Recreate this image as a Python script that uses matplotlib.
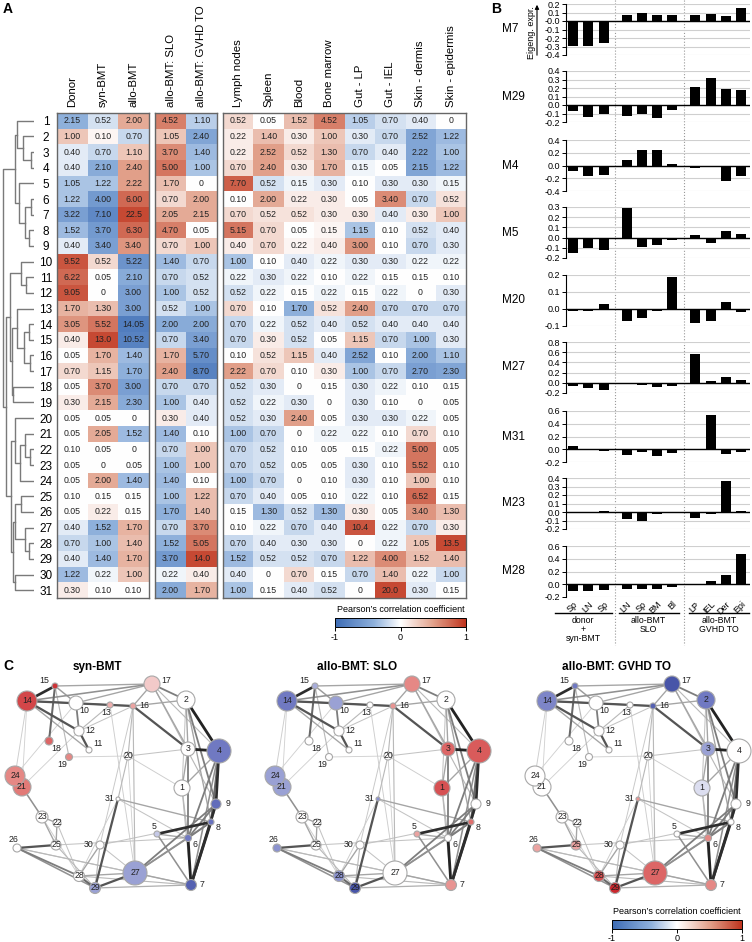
import numpy as np
import matplotlib
matplotlib.use("Agg")
import matplotlib.pyplot as plt
from matplotlib.colors import LinearSegmentedColormap, Normalize
from matplotlib.patches import Circle
from matplotlib.transforms import blended_transform_factory
import matplotlib.cm as cm

plt.rcParams['font.family'] = ['Liberation Sans', 'DejaVu Sans']
plt.rcParams['axes.unicode_minus'] = False

W, H = 752, 942

# ---------------- panel A data ----------------
col_names = ["Donor", "syn-BMT", "allo-BMT", "allo-BMT: SLO", "allo-BMT: GVHD TO",
             "Lymph nodes", "Spleen", "Blood", "Bone marrow", "Gut - LP", "Gut - IEL",
             "Skin - dermis", "Skin - epidermis"]
col_groups = [[0, 1, 2], [3, 4], [5, 6, 7, 8, 9, 10, 11, 12]]

cell_text = [
    "2.15 0.52 2.00 4.52 1.10 0.52 0.05 1.52 4.52 1.05 0.70 0.40 0",
    "1.00 0.10 0.70 1.05 2.40 0.22 1.40 0.30 1.00 0.30 0.70 2.52 1.22",
    "0.40 0.70 1.10 3.70 1.40 0.22 2.52 0.52 1.30 0.70 0.40 2.22 1.00",
    "0.40 2.10 2.40 5.00 1.00 0.70 2.40 0.30 1.70 0.15 0.05 2.15 1.22",
    "1.05 1.22 2.22 1.70 0 7.70 0.52 0.15 0.30 0.10 0.30 0.30 0.15",
    "1.22 4.00 6.00 0.70 2.00 0.10 2.00 0.22 0.30 0.05 3.40 0.70 0.52",
    "3.22 7.10 22.5 2.05 2.15 0.70 0.52 0.52 0.30 0.30 0.40 0.30 1.00",
    "1.52 3.70 6.30 4.70 0.05 5.15 0.70 0.05 0.15 1.15 0.10 0.52 0.40",
    "0.40 3.40 3.40 0.70 1.00 0.40 0.70 0.22 0.40 3.00 0.10 0.70 0.30",
    "9.52 0.52 5.22 1.40 0.70 1.00 0.10 0.40 0.22 0.30 0.30 0.22 0.22",
    "6.22 0.05 2.10 0.70 0.52 0.22 0.30 0.22 0.10 0.22 0.15 0.15 0.10",
    "9.05 0 3.00 1.00 0.52 0.52 0.22 0.15 0.22 0.15 0.22 0 0.30",
    "1.70 1.30 3.00 0.52 1.00 0.70 0.10 1.70 0.52 2.40 0.70 0.70 0.70",
    "3.05 5.52 14.05 2.00 2.00 0.70 0.22 0.52 0.40 0.52 0.40 0.40 0.40",
    "0.40 13.0 10.52 0.70 3.40 0.70 0.30 0.52 0.05 1.15 0.70 1.00 0.30",
    "0.05 1.70 1.40 1.70 5.70 0.10 0.52 1.15 0.40 2.52 0.10 2.00 1.10",
    "0.70 1.15 1.70 2.40 8.70 2.22 0.70 0.10 0.30 1.00 0.70 2.70 2.30",
    "0.05 3.70 3.00 0.70 0.70 0.52 0.30 0 0.15 0.30 0.22 0.10 0.15",
    "0.30 2.15 2.30 1.00 0.40 0.52 0.22 0.30 0 0.30 0.10 0 0.05",
    "0.05 0.05 0 0.30 0.40 0.52 0.30 2.40 0.05 0.30 0.30 0.22 0.05",
    "0.05 2.05 1.52 1.40 0.10 1.00 0.70 0 0.22 0.22 0.10 0.70 0.10",
    "0.10 0.05 0 0.70 1.00 0.70 0.52 0.10 0.05 0.15 0.22 5.00 0.05",
    "0.05 0 0.05 1.00 1.00 0.70 0.52 0.05 0.05 0.30 0.10 5.52 0.10",
    "0.05 2.00 1.40 1.40 0.10 1.00 0.70 0 0.10 0.30 0.10 1.00 0.10",
    "0.10 0.15 0.15 1.00 1.22 0.70 0.40 0.05 0.10 0.22 0.10 6.52 0.15",
    "0.05 0.22 0.15 1.70 1.40 0.15 1.30 0.52 1.30 0.30 0.05 3.40 1.30",
    "0.40 1.52 1.70 0.70 3.70 0.10 0.22 0.70 0.40 10.4 0.22 0.70 0.30",
    "0.70 1.00 1.40 1.52 5.05 0.70 0.40 0.30 0.30 0 0.22 1.05 13.5",
    "0.40 1.40 1.70 3.70 14.0 1.52 0.52 0.52 0.70 1.22 4.00 1.52 1.40",
    "1.22 0.22 1.00 0.22 0.40 0.40 0 0.70 0.15 0.70 1.40 0.22 1.00",
    "0.30 0.10 0.10 2.00 1.70 1.00 0.15 0.40 0.52 0 20.0 0.30 0.15",
]

# Pearson's correlation (cell colour)
corr = np.array([
    [-0.4, -0.15, 0.45, 0.65, -0.25, 0.2, 0, 0.35, 0.65, -0.25, -0.15, -0.1, 0],
    [0.3, 0.05, -0.2, 0.3, -0.5, 0.1, 0.35, 0.1, 0.3, -0.1, -0.2, -0.5, -0.35],
    [-0.1, -0.2, 0.3, 0.6, -0.35, 0.1, 0.5, 0.2, 0.35, -0.2, -0.1, -0.5, -0.3],
    [-0.1, -0.45, 0.5, 0.7, -0.3, 0.2, 0.5, 0.1, 0.4, -0.05, 0, -0.5, -0.35],
    [-0.3, -0.3, 0.5, 0.35, 0, 0.8, -0.15, -0.05, -0.1, 0, -0.1, -0.1, -0.05],
    [-0.3, -0.6, 0.75, 0.2, 0.45, 0, 0.45, 0.1, 0.1, 0, 0.6, -0.2, 0.15],
    [-0.55, -0.75, 0.9, 0.45, 0.45, 0.2, 0.15, 0.15, 0.1, 0.1, -0.1, 0.1, 0.3],
    [-0.35, -0.6, 0.75, 0.65, 0, 0.7, 0.2, 0, 0.05, -0.3, 0, -0.15, -0.1],
    [-0.1, -0.55, 0.55, 0.2, 0.3, 0.1, 0.2, 0.05, 0.1, 0.55, 0, -0.2, -0.1],
    [0.85, 0.2, -0.65, -0.35, -0.2, -0.3, 0, -0.1, -0.05, -0.1, -0.1, -0.05, -0.05],
    [0.75, 0, -0.45, -0.2, -0.15, -0.05, -0.1, -0.05, 0, -0.05, 0, 0, 0],
    [0.85, 0, -0.55, -0.3, -0.15, -0.15, -0.05, 0, -0.05, 0, -0.05, 0, -0.1],
    [0.4, 0.35, -0.55, -0.15, -0.3, 0.2, 0, -0.4, 0.15, 0.5, -0.2, -0.2, -0.2],
    [0.55, 0.7, -0.85, -0.45, -0.45, -0.2, -0.05, -0.15, -0.1, -0.15, -0.1, -0.1, -0.1],
    [0.1, 0.9, -0.8, -0.2, -0.55, -0.2, 0.1, -0.15, 0, 0.3, -0.2, -0.3, -0.1],
    [0, 0.4, -0.35, 0.4, -0.7, 0, 0.15, 0.3, -0.1, -0.5, 0, -0.45, -0.3],
    [0.2, 0.3, -0.4, 0.5, -0.8, 0.5, 0.2, 0, 0.1, -0.3, -0.2, -0.55, -0.5],
    [0, 0.6, -0.55, -0.2, -0.2, -0.15, -0.1, 0, 0, -0.1, -0.05, 0, 0],
    [0.1, 0.45, -0.45, -0.3, -0.1, -0.15, -0.05, -0.1, 0, -0.1, 0, 0, 0],
    [0, 0, 0, 0.1, -0.1, -0.15, -0.1, 0.5, 0, -0.1, -0.1, -0.05, 0],
    [0, 0.45, -0.35, -0.35, 0, -0.3, -0.2, 0, -0.05, -0.05, 0, 0.2, 0],
    [0, 0, 0, -0.2, 0.3, -0.2, -0.15, 0, 0, 0, -0.05, 0.7, 0],
    [0, 0, 0, -0.3, 0.3, -0.2, -0.15, 0, 0, -0.1, 0, 0.7, 0],
    [0, 0.45, -0.35, -0.35, 0, -0.3, -0.2, 0, 0, -0.1, 0, 0.3, 0],
    [0, 0, 0, -0.3, 0.35, -0.2, -0.1, 0, 0, -0.05, 0, 0.75, 0],
    [0, 0.1, 0, -0.4, 0.35, 0, -0.35, -0.15, -0.35, 0.1, 0, 0.55, 0.35],
    [-0.1, -0.4, 0.4, -0.2, 0.6, 0, -0.05, -0.2, -0.1, 0.85, -0.05, -0.2, 0.1],
    [-0.2, -0.3, 0.35, -0.4, 0.7, -0.2, -0.1, -0.1, -0.1, 0, -0.05, 0.3, 0.9],
    [-0.1, -0.35, 0.4, -0.6, 0.9, -0.35, -0.15, -0.15, -0.2, 0.35, 0.6, 0.35, 0.35],
    [-0.35, -0.05, 0.3, -0.05, 0.1, -0.1, 0, 0.2, 0, -0.2, 0.35, -0.05, -0.2],
    [0.1, 0, 0, -0.45, 0.4, -0.3, 0, -0.1, -0.15, 0, 0.9, -0.1, 0],
])

# dendrogram: (left, right, merge height)
tree = (
    ((1, (2, (3, 4, 3), 11), 16), (5, ((6, 7, 3), (8, 9, 5), 9), 15), 18),
    (((10, (11, 12, 8), 13), ((13, ((14, 15, 5), (16, 17, 4), 10), 16), (18, 19, 20), 21), 23),
     ((20, ((21, (22, 23, 4), 9), 24, 14), 18),
      (((25, 26, 13), (27, (28, 29, 5), 9), 18), (30, 31, 18), 20), 22), 27),
    30)

# ---------------- panel B data ----------------
b_modules = ["M7", "M29", "M4", "M5", "M20", "M27", "M31", "M23", "M28"]
b_tick_labels = ["Sp", "LN", "Sp", "LN", "Sp", "BM", "Bl", "LP", "IEL", "Der", "Epi"]
b_values = [
    [-0.29, -0.29, -0.26, 0.07, 0.10, 0.07, 0.07, 0.07, 0.08, 0.06, 0.15],
    [-0.07, -0.14, -0.10, -0.13, -0.10, -0.15, -0.06, 0.21, 0.32, 0.19, 0.18],
    [-0.08, -0.17, -0.15, 0.08, 0.24, 0.25, 0.03, -0.04, -0.01, -0.24, -0.17],
    [-0.15, -0.10, -0.12, 0.29, -0.09, -0.07, -0.02, 0.03, -0.05, 0.06, 0.04],
    [-0.01, -0.01, 0.03, -0.07, -0.055, -0.01, 0.19, -0.08, -0.07, 0.04, -0.015],
    [-0.07, -0.10, -0.14, 0.005, -0.04, -0.09, -0.07, 0.57, 0.03, 0.11, 0.06],
    [0.05, -0.005, -0.02, -0.09, -0.04, -0.10, -0.06, 0.0, 0.53, -0.07, -0.04],
    [-0.005, -0.01, 0.01, -0.08, -0.10, -0.02, 0.005, -0.07, -0.02, 0.37, 0.01],
    [-0.11, -0.10, -0.09, -0.07, -0.07, -0.08, -0.05, 0.005, 0.05, 0.15, 0.48],
]
b_ylims = [(-0.4, 0.2), (-0.2, 0.4), (-0.4, 0.4), (-0.2, 0.3), (-0.1, 0.2),
           (-0.2, 0.8), (-0.2, 0.6), (-0.2, 0.4), (-0.2, 0.6)]
b_steps = [0.1, 0.1, 0.2, 0.1, 0.1, 0.2, 0.2, 0.1, 0.2]
b_groups = ["donor\n+\nsyn-BMT", "allo-BMT\nSLO", "allo-BMT\nGVHD TO"]

# ---------------- panel C data ----------------
net_titles = ["syn-BMT", "allo-BMT: SLO", "allo-BMT: GVHD TO"]
# node colour (correlation) per network, modules 1..31
net_corr = [
    [0, 0, 0, -0.5, -0.2, -0.5, -0.7, -0.55, -0.6, 0, 0, 0, 0.3, 0.75, 0.85, 0.35,
     0.2, 0.6, 0.45, 0, 0.5, 0, 0, 0.45, 0, 0, -0.35, 0, -0.35, 0, 0],
    [0.7, 0, 0.6, 0.65, 0.35, 0, 0.4, 0.55, 0, -0.35, 0, 0, 0, -0.5, -0.3, 0.4,
     0.45, 0, 0, 0, -0.35, 0, 0, -0.35, 0, -0.4, 0, -0.4, -0.8, 0, -0.4],
    [-0.12, -0.5, -0.35, 0, 0, 0.45, 0.45, 0, 0, 0, 0, 0, 0, -0.45, -0.5, -0.7,
     -0.8, 0, 0, 0, 0, 0, 0, 0, 0.35, 0.35, 0.6, 0.7, 0.9, 0, 0.4],
]
node_xy = {1: (182, 788), 2: (186, 700), 3: (188, 749), 4: (219, 751), 5: (157, 834),
           6: (188, 838), 7: (191, 885), 8: (211, 822), 9: (216, 804), 10: (76, 703),
           11: (89, 750), 12: (79, 731), 13: (110, 705), 14: (27, 701), 15: (55, 686),
           16: (133, 706), 17: (152, 684), 18: (49, 741), 19: (69, 757), 20: (128, 756),
           21: (22, 787), 22: (57, 823), 23: (42, 817), 24: (15, 776), 25: (56, 845),
           26: (17, 848), 27: (135, 873), 28: (79, 876), 29: (95, 888), 30: (100, 845),
           31: (118, 799)}
node_r = [8, 9, 7, 12, 3, 3.5, 5.5, 3, 5, 7, 3, 5, 3, 10, 3, 3, 8, 4, 3.5, 4,
          9, 4, 6, 10, 5, 4, 12, 5.5, 5.5, 4, 2]
edges = [(14, 15, 0.9), (14, 16, 0.7), (14, 12, 0.7), (14, 13, 0.35), (14, 10, 0.3),
         (14, 11, 0.3), (14, 17, 0.4), (15, 18, 0.6), (15, 10, 0.35), (15, 17, 0.3),
         (15, 19, 0.2), (10, 12, 0.5), (12, 11, 0.7), (10, 17, 0.3), (12, 13, 0.2),
         (13, 16, 0.3), (16, 17, 0.3), (16, 2, 0.3), (16, 3, 0.7), (17, 2, 0.5),
         (17, 3, 0.3), (2, 4, 0.95), (3, 4, 0.95), (2, 3, 0.3), (2, 9, 0.5),
         (3, 6, 0.5), (3, 1, 0.3), (1, 4, 0.3), (4, 9, 0.9), (4, 8, 0.6), (4, 6, 0.5),
         (4, 7, 0.4), (9, 7, 0.9), (9, 8, 0.5), (9, 6, 0.5), (8, 7, 0.9), (8, 6, 0.5),
         (8, 5, 0.9), (6, 7, 0.95), (5, 7, 0.4), (5, 6, 0.3), (27, 9, 0.5), (27, 8, 0.4),
         (27, 6, 0.4), (27, 29, 0.7), (27, 28, 0.3), (27, 7, 0.3), (27, 16, 0.2),
         (29, 31, 0.7), (29, 28, 0.6), (29, 7, 0.25), (28, 26, 0.5), (28, 30, 0.3),
         (28, 7, 0.2), (26, 25, 0.7), (26, 29, 0.4), (25, 22, 0.3), (25, 23, 0.3),
         (25, 6, 0.15), (23, 21, 0.4), (23, 22, 0.3), (21, 24, 0.3), (31, 8, 0.3),
         (31, 20, 0.2), (20, 3, 0.15), (20, 16, 0.2), (30, 8, 0.15), (30, 29, 0.2),
         (1, 6, 0.2), (1, 7, 0.2), (24, 14, 0.1), (26, 7, 0.2), (2, 8, 0.3), (17, 9, 0.2),
         (13, 27, 0.1), (16, 30, 0.12), (21, 12, 0.08), (24, 10, 0.08), (20, 1, 0.1),
         (31, 6, 0.15), (2, 1, 0.15), (17, 4, 0.2), (10, 13, 0.2), (22, 28, 0.15),
         (23, 28, 0.1), (26, 27, 0.15), (25, 29, 0.2), (30, 27, 0.15), (28, 31, 0.1),
         (19, 20, 0.08), (20, 27, 0.08), (21, 14, 0.08), (12, 16, 0.15)]
label_offset = {5: (-3, -7), 6: (7, 7), 7: (11, 0), 8: (7, 6), 9: (12, 0), 10: (8, 8),
                11: (9, -6), 12: (11, 0), 13: (-4, 8), 15: (-11, -5), 16: (11, 0),
                17: (14, -3), 18: (7, 8), 19: (-7, 8), 26: (-3, -8), 30: (-11, 0), 31: (-8, 0)}

heat_cmap = LinearSegmentedColormap.from_list(
    "pc", [(0, "#3d6cb5"), (0.3, "#8fb1dc"), (0.5, "#ffffff"), (0.75, "#e2a18b"), (1, "#c0351f")])
net_cmap = LinearSegmentedColormap.from_list(
    "pn", [(0, "#2f3f98"), (0.25, "#6f78c2"), (0.5, "#ffffff"), (0.75, "#e27b78"), (1, "#c4141c")])
norm = Normalize(-1, 1)

fig = plt.figure(figsize=(W / 100, H / 100), dpi=100)


def px_axes(x0, y0, x1, y1, **kw):
    return fig.add_axes([x0 / W, 1 - y1 / H, (x1 - x0) / W, (y1 - y0) / H], **kw)


over = px_axes(0, 0, W, H)
over.set_xlim(0, W)
over.set_ylim(H, 0)
over.axis("off")

# ---------------- A: heatmap ----------------
hm_top, hm_bot = 113, 598
group_x = [(57, 149), (155, 217), (223, 466)]
labels = [row.split() for row in cell_text]
for gi, cols in enumerate(col_groups):
    x0, x1 = group_x[gi]
    ax = px_axes(x0, hm_top, x1, hm_bot)
    ax.imshow(corr[:, cols], cmap=heat_cmap, norm=norm, aspect="auto", interpolation="nearest")
    for i in range(len(labels)):
        for j, c in enumerate(cols):
            ax.text(j, i, labels[i][c], ha="center", va="center", fontsize=6.3, color="#222222")
    ax.xaxis.tick_top()
    ax.set_xticks(range(len(cols)))
    ax.set_xticklabels([col_names[c] for c in cols], rotation=90, fontsize=8.2)
    ax.tick_params(axis="x", length=0, pad=4)
    if gi == 0:
        ax.set_yticks(range(31))
        ax.set_yticklabels([str(i + 1) for i in range(31)], fontsize=8.5, ha="center")
        ax.tick_params(axis="y", length=0, pad=8)
    else:
        ax.set_yticks([])
    for s in ax.spines.values():
        s.set_color("#666666")
        s.set_linewidth(1)

# dendrogram
dax = px_axes(2, hm_top, 34, hm_bot)
dax.set_xlim(31, 0)
dax.set_ylim(30.5, -0.5)
dax.axis("off")


def draw_tree(node):
    if isinstance(node, int):
        return node - 1, 0.0
    left, right, h = node
    yl, hl = draw_tree(left)
    yr, hr = draw_tree(right)
    dax.plot([hl, h, h, hr], [yl, yl, yr, yr], color="#7a7a7a", lw=1)
    return (yl + yr) / 2, h


draw_tree(tree)

cax = px_axes(335, 618, 466, 627)
cb = fig.colorbar(cm.ScalarMappable(norm=norm, cmap=heat_cmap), cax=cax, orientation="horizontal", ticks=[-1, 0, 1])
cb.ax.set_xticklabels(["-1", "0", "1"])
cb.ax.tick_params(labelsize=6.5, length=3, width=0.7, pad=1.5)
cb.outline.set_linewidth(0.7)
cax.text(0.5, 1.5, "Pearson\u2019s correlation coefficient", transform=cax.transAxes,
         ha="center", va="bottom", fontsize=6.5)

over.text(3, 9, "A", fontsize=10, fontweight="bold", va="center")
over.text(491, 9, "B", fontsize=10, fontweight="bold", va="center")
over.text(3, 666, "C", fontsize=10, fontweight="bold", va="center")

# ---------------- B: eigengene bars ----------------
bar_pos = [0, 1, 2, 3.5, 4.5, 5.5, 6.5, 8, 9, 10, 11]
b_top = [4, 71, 140, 207, 275, 342, 411, 478, 546]
bar_axes = []
for k, name in enumerate(b_modules):
    ax = px_axes(566, b_top[k], 750, b_top[k] + 51)
    ax.patch.set_alpha(0)
    lo, hi = b_ylims[k]
    ticks = np.round(np.arange(lo, hi + 1e-9, b_steps[k]), 2)
    ax.set_yticks(ticks)
    ax.set_yticklabels(["%.1f" % t for t in ticks], fontsize=6.5)
    ax.set_ylim(lo, hi)
    ax.set_xlim(-0.46, 11.57)
    ax.yaxis.grid(True, color="#cfcfcf", lw=0.8)
    ax.set_axisbelow(True)
    ax.bar(bar_pos, b_values[k], width=0.65, color="black", zorder=3)
    ax.axhline(0, color="black", lw=1, zorder=4)
    for s in ["top", "right", "bottom"]:
        ax.spines[s].set_visible(False)
    ax.spines["left"].set_linewidth(0.8)
    ax.tick_params(axis="y", length=3, width=0.7, pad=1)
    if k == len(b_modules) - 1:
        ax.set_xticks(bar_pos)
        ax.set_xticklabels(b_tick_labels, rotation=45, ha="right", rotation_mode="anchor", fontsize=6.5)
        ax.tick_params(axis="x", length=0, pad=2)
    else:
        ax.set_xticks([])
    ax.text(-0.35, 0.5, name, transform=ax.transAxes, ha="left", va="center", fontsize=8.5)
    bar_axes.append(ax)

sep_tr = blended_transform_factory(bar_axes[-1].transData, over.transData)
for xs in [2.75, 7.25]:
    over.plot([xs, xs], [0, 645], transform=sep_tr, color="#999999", lw=0.8, ls=":")

group_span = [(-1.2, 2.55), (3.0, 6.9), (7.6, 11.5)]
for (a, b), txt in zip(group_span, b_groups):
    over.plot([a, b], [613, 613], transform=sep_tr, color="black", lw=1)
    over.text((a + b) / 2, 616, txt, transform=sep_tr, ha="center", va="top", fontsize=6.3,
              linespacing=1.0)

over.annotate("", xy=(537, 2), xytext=(537, 58),
              arrowprops=dict(arrowstyle="-|>", color="black", lw=0.8, mutation_scale=6))
over.text(531, 33, "Eigeng. expr.", rotation=90, ha="center", va="center", fontsize=6.5)

# ---------------- C: networks ----------------
for k, title in enumerate(net_titles):
    ax = px_axes(260 * k, 660, 260 * k + 245, 905)
    ax.set_xlim(0, 245)
    ax.set_ylim(905, 660)
    ax.axis("off")
    for a, b, w in sorted(edges, key=lambda e: e[2]):
        ax.plot([node_xy[a][0], node_xy[b][0]], [node_xy[a][1], node_xy[b][1]],
                color=str(0.88 - 0.78 * w), lw=0.5 + 1.6 * w, zorder=1, solid_capstyle="round")
    for m in range(1, 32):
        v = net_corr[k][m - 1]
        ax.add_patch(Circle(node_xy[m], radius=node_r[m - 1], facecolor=net_cmap(norm(v)),
                            edgecolor="#a8a8a8", lw=0.8, zorder=3))
        dx, dy = label_offset.get(m, (0, 0))
        ax.text(node_xy[m][0] + dx, node_xy[m][1] + dy, str(m), ha="center", va="center",
                fontsize=6.3, color="#222222", zorder=4)
    ax.text(97, 667, title, ha="center", va="center", fontsize=8.5, fontweight="bold")

cax2 = px_axes(612, 920, 742, 929)
cb2 = fig.colorbar(cm.ScalarMappable(norm=norm, cmap=heat_cmap), cax=cax2, orientation="horizontal", ticks=[-1, 0, 1])
cb2.ax.set_xticklabels(["-1", "0", "1"])
cb2.ax.tick_params(labelsize=6.5, length=3, width=0.7, pad=0.5)
cb2.outline.set_linewidth(0.7)
cax2.text(0.5, 1.5, "Pearson\u2019s correlation coefficient", transform=cax2.transAxes,
          ha="center", va="bottom", fontsize=6.5)

fig.savefig("out.png", dpi=100)
